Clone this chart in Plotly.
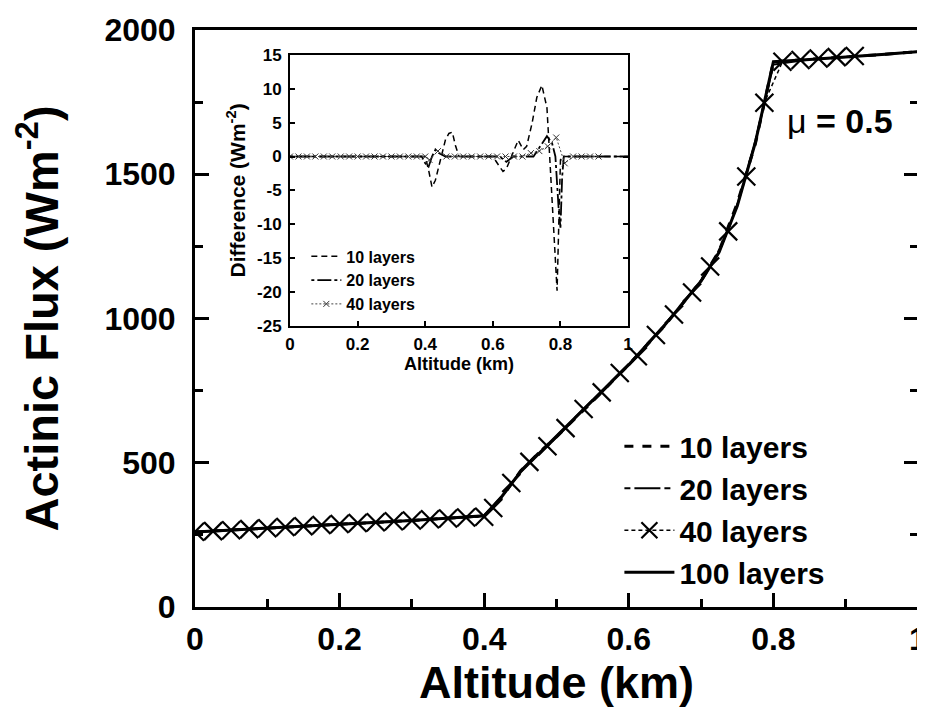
import plotly.graph_objects as go

# ---------------- main chart data ----------------
alt_100 = [0.0, 0.1, 0.2, 0.3, 0.4, 0.425, 0.45, 0.475, 0.5, 0.55, 0.6, 0.65, 0.7,
           0.725, 0.75, 0.775, 0.8, 0.85, 0.9, 0.95, 1.0]
flux_100 = [260, 273, 288, 300, 316, 385, 468, 530, 590, 713, 840, 978, 1130,
            1230, 1390, 1610, 1890, 1898, 1906, 1915, 1925]
flux_10 = [260, 273, 288, 300, 316, 381, 471, 533, 590, 713, 840, 976, 1131,
           1235, 1400, 1605, 1890, 1898, 1906, 1915, 1925]
flux_20 = [260, 273, 288, 300, 315, 385, 468, 530, 590, 713, 840, 978, 1130,
           1231, 1392, 1612, 1880, 1898, 1906, 1915, 1925]

alt_40 = [0.0, 0.025, 0.05, 0.075, 0.1, 0.125, 0.15, 0.175, 0.2, 0.225, 0.25, 0.275,
          0.3, 0.325, 0.35, 0.375, 0.4, 0.4125, 0.4375, 0.4625, 0.4875, 0.5125,
          0.5375, 0.5625, 0.5875, 0.6125, 0.6375, 0.6625, 0.6875, 0.7125, 0.7375,
          0.7625, 0.7875, 0.8125, 0.8375, 0.8625, 0.8875, 0.9125]
flux_40 = [261, 263, 266, 270, 273, 277, 280, 284, 288, 291, 294, 297,
           300, 304, 307, 310, 313, 343, 430, 503, 557, 620,
           686, 744, 811, 869, 943, 1014, 1090, 1180, 1302,
           1492, 1748, 1890, 1896, 1901, 1906, 1910]

# ---------------- inset (difference) data ----------------
diff_alt_10 = [0.0, 0.2, 0.38, 0.40, 0.41, 0.42, 0.43, 0.44, 0.45, 0.46, 0.47, 0.48,
               0.49, 0.50, 0.52, 0.60, 0.62, 0.63, 0.64, 0.66, 0.675, 0.69, 0.70,
               0.716, 0.73, 0.745, 0.76, 0.765, 0.775, 0.785, 0.79, 0.795, 0.80,
               0.81, 0.9, 1.0]
diff_10 = [0, 0, 0, 0, -2, -4.5, -3.5, -1.5, 0.5, 2.5, 3.4, 3.6,
           1.5, 0, 0, 0, -1.5, -2.2, -1.8, 0.5, 2.4, 1.0, 1.5,
           4.9, 8.7, 10.5, 7.2, 2.8, -6.5, -16, -19.8, -10, -0.5,
           0, 0, 0]

diff_alt_20 = [0.0, 0.2, 0.39, 0.40, 0.41, 0.42, 0.43, 0.44, 0.46, 0.62, 0.64, 0.66,
               0.72, 0.74, 0.76, 0.775, 0.785, 0.795, 0.80, 0.805, 0.81, 0.9, 1.0]
diff_20 = [0, 0, 0, -1, -1.5, 0, 1, 0.5, 0, 0, -0.8, 0,
           0, 1.5, 3, 2, 0, -8, -10.5, -3, 0, 0, 0]

diff_40 = [0, 0, 0, 0, 0, 0, 0, 0, 0, 0, 0, 0,
           0, 0, 0, 0, 0, -0.5, 0.8, 0, 0, 0,
           0, 0, 0, 0, 0, 0, 0, 0.5, 0.8,
           1.5, 2.8, -1.0, 0, 0, 0, 0]

names = ["10 layers", "20 layers", "40 layers", "100 layers"]

FONT = "Liberation Sans, Arial, sans-serif"
BLK = "black"

fig = go.Figure()

# main traces
fig.add_trace(go.Scatter(x=alt_100, y=flux_10, name=names[0], mode="lines",
                         line=dict(color=BLK, width=3, dash="dash"), legend="legend"))
fig.add_trace(go.Scatter(x=alt_100, y=flux_20, name=names[1], mode="lines",
                         line=dict(color=BLK, width=2, dash="6px,4px,26px,4px"), legend="legend"))
fig.add_trace(go.Scatter(x=alt_40, y=flux_40, name=names[2], mode="lines+markers",
                         line=dict(color=BLK, width=1.5, dash="4px,3px"),
                         marker=dict(symbol="x-thin", size=18, color=BLK,
                                     line=dict(color=BLK, width=2.2)),
                         legend="legend"))
fig.add_trace(go.Scatter(x=alt_100, y=flux_100, name=names[3], mode="lines",
                         line=dict(color=BLK, width=3), legend="legend"))

# inset traces
fig.add_trace(go.Scatter(x=diff_alt_10, y=diff_10, name=names[0], mode="lines",
                         xaxis="x2", yaxis="y2",
                         line=dict(color=BLK, width=1.5, dash="6px,4px"), legend="legend2"))
fig.add_trace(go.Scatter(x=diff_alt_20, y=diff_20, name=names[1], mode="lines",
                         xaxis="x2", yaxis="y2",
                         line=dict(color=BLK, width=1.8, dash="3px,3px,14px,3px"), legend="legend2"))
fig.add_trace(go.Scatter(x=alt_40, y=diff_40, name=names[2], mode="lines+markers",
                         xaxis="x2", yaxis="y2",
                         line=dict(color="#444", width=1, dash="2px,2px"),
                         marker=dict(symbol="x-thin", size=6, color=BLK,
                                     line=dict(color="#333", width=1)),
                         legend="legend2"))

tickfont_main = dict(family=FONT, size=32, color=BLK, weight="bold")
tickfont_in = dict(family=FONT, size=17, color=BLK, weight="bold")

fig.update_layout(
    width=917, height=703,
    margin=dict(l=187, r=7, t=22, b=104, autoexpand=False),
    paper_bgcolor="white", plot_bgcolor="white",
    font=dict(family=FONT, color=BLK),
    xaxis=dict(
        domain=[0, 1], range=[0, 1], dtick=0.2, tick0=0, automargin=False,
        ticks="inside", ticklen=14, tickwidth=3, tickcolor=BLK,
        minor=dict(dtick=0.1, ticks="inside", ticklen=8, tickwidth=3, tickcolor=BLK),
        showline=True, linewidth=3, linecolor=BLK, mirror=True,
        showgrid=False, zeroline=False, ticklabeloverflow="allow",
        tickfont=tickfont_main, ticklabelstandoff=2,
        title=dict(text="Altitude (km)", standoff=2,
                   font=dict(family=FONT, size=45, color=BLK, weight="bold")),
    ),
    yaxis=dict(
        domain=[0, 1], range=[0, 2000], dtick=500, tick0=0, automargin=False,
        ticks="inside", ticklen=14, tickwidth=3, tickcolor=BLK,
        minor=dict(dtick=250, ticks="inside", ticklen=8, tickwidth=3, tickcolor=BLK),
        showline=True, linewidth=3, linecolor=BLK, mirror="ticks",
        showgrid=False, zeroline=False,
        tickfont=tickfont_main, ticklabelstandoff=10,
        title=dict(text="Actinic Flux (Wm<sup>-2</sup>)", standoff=38,
                   font=dict(family=FONT, size=47, color=BLK, weight="bold")),
    ),
    xaxis2=dict(
        domain=[0.1314, 0.599], anchor="y2", range=[0, 1], dtick=0.2, tick0=0,
        automargin=False,
        ticks="inside", ticklen=5, tickwidth=2, tickcolor=BLK,
        showline=True, linewidth=2, linecolor=BLK, mirror=True,
        showgrid=False, zeroline=False,
        tickfont=tickfont_in, ticklabelstandoff=2,
        title=dict(text="Altitude (km)", standoff=1,
                   font=dict(family=FONT, size=18, color=BLK, weight="bold")),
    ),
    yaxis2=dict(
        domain=[0.487, 0.957], anchor="x2", range=[-25, 15], automargin=False,
        tickvals=[15, 10, 5, 0, -5, -10, -15, -20, -25],
        ticktext=["15", "10", "5", "0", "-5", "-10", "-15", "-20", "-25"],
        ticks="inside", ticklen=5, tickwidth=2, tickcolor=BLK,
        showline=True, linewidth=2, linecolor=BLK, mirror="ticks",
        showgrid=False, zeroline=False,
        tickfont=tickfont_in, ticklabelstandoff=3,
        title=dict(text="Difference (Wm<sup>-2</sup>)", standoff=6,
                   font=dict(family=FONT, size=21, color=BLK, weight="bold")),
    ),
    legend=dict(
        x=0.587, y=0.015, xanchor="left", yanchor="bottom",
        bgcolor="rgba(0,0,0,0)", borderwidth=0,
        font=dict(family=FONT, size=30, color=BLK, weight="bold"),
        tracegroupgap=0, itemwidth=50,
    ),
    legend2=dict(
        x=0.154, y=0.495, xanchor="left", yanchor="bottom",
        bgcolor="rgba(0,0,0,0)", borderwidth=0,
        font=dict(family=FONT, size=16, color=BLK, weight="bold"),
        tracegroupgap=0, itemwidth=30,
    ),
    annotations=[
        dict(text="\u03bc <b>= 0.5</b>", x=0.968, y=0.842, xref="paper", yref="paper",
             xanchor="right", yanchor="middle", showarrow=False,
             font=dict(family=FONT, size=34, color=BLK)),
    ],
)

fig.write_html("out.html")
